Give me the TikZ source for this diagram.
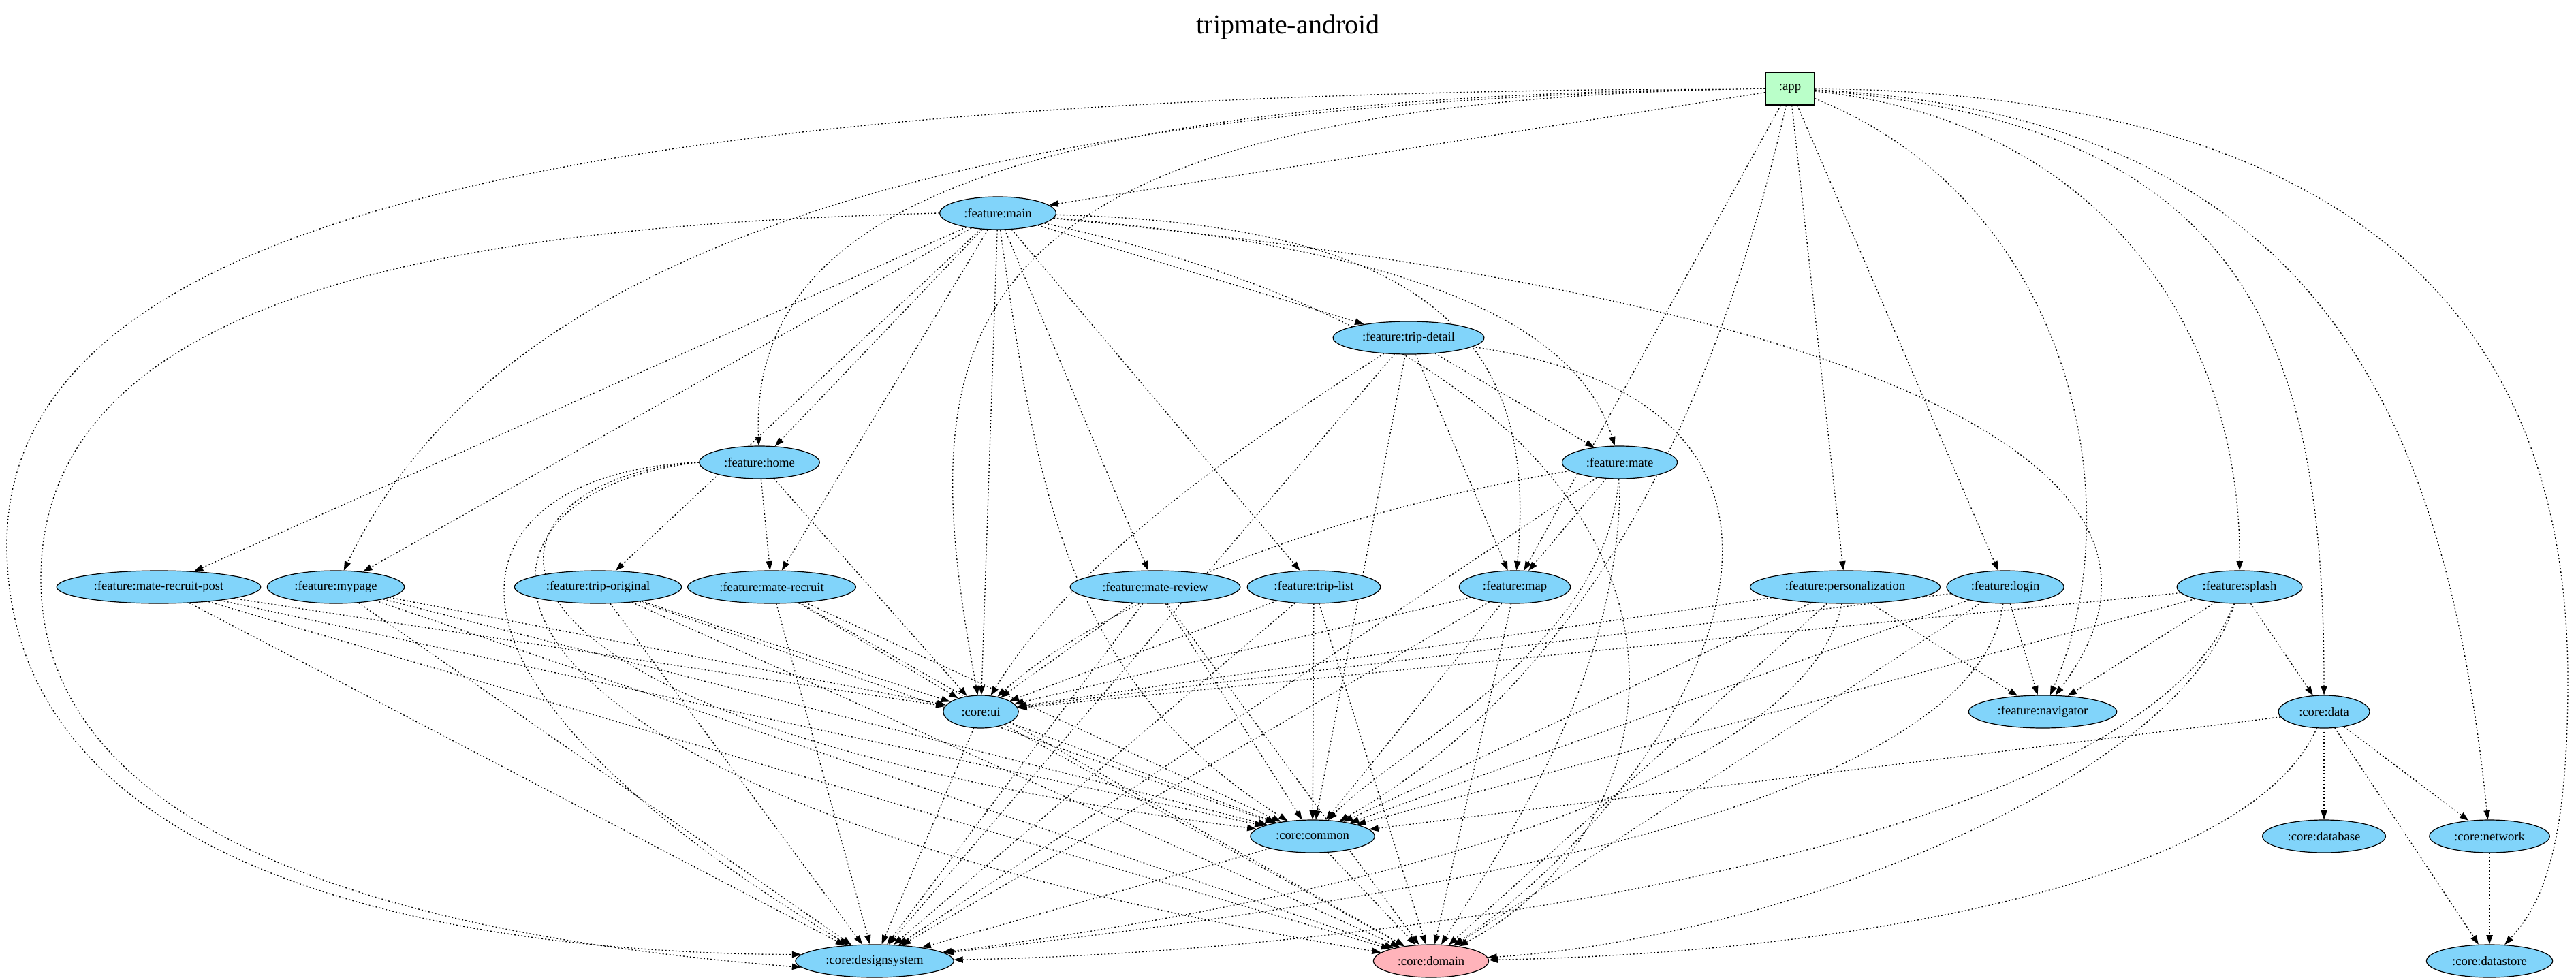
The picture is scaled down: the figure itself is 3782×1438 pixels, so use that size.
\documentclass[tikz,border=0pt]{standalone}
\usepackage{fontspec}
\setmainfont{Liberation Serif}
\usetikzlibrary{arrows.meta, shapes.geometric}
\definecolor{libblue}{HTML}{81D4FA}
\definecolor{appgreen}{HTML}{BAFFC9}
\definecolor{jvmpink}{HTML}{FFB3BA}
\pgfdeclarelayer{edges}
\pgfsetlayers{edges,main}
\tikzset{
    module/.style={ellipse, draw=black, line width=0.9pt, fill=libblue, minimum width=54pt, minimum height=36pt, inner xsep=7.92pt, inner ysep=1pt, font=\fontsize{14}{16}\selectfont},
    jvmmodule/.style={module, fill=jvmpink},
    appmodule/.style={rectangle, draw=black, line width=1pt, fill=appgreen, minimum width=54pt, minimum height=36pt, inner xsep=7.92pt, font=\fontsize{14}{16}\selectfont},
    dep/.style={-{Triangle[length=10pt, width=7pt]}, draw=black, line width=1pt, dash pattern=on 1.4pt off 2.4pt}
}

\begin{document}
\begin{tikzpicture}[x=0.75pt, y=-0.75pt]
    \useasboundingbox (0,0) rectangle (3782,1438);
    \node[font=\fontsize{30}{36}\selectfont] (title) at (1891,40) {tripmate-android};

    \node[appmodule] (app) at (2628,130) {:app};
    \node[module] (fmain) at (1465,313) {:feature:main};
    \node[module] (fdetail) at (2068,496) {:feature:trip-detail};
    \node[module] (fhome) at (1115,679) {:feature:home};
    \node[module] (fmate) at (2378,679) {:feature:mate};
    \node[module] (fpost) at (233,862) {:feature:mate-recruit-post};
    \node[module] (fmypage) at (493,862) {:feature:mypage};
    \node[module] (forig) at (878,862) {:feature:trip-original};
    \node[module] (frecruit) at (1133,862) {:feature:mate-recruit};
    \node[module] (freview) at (1696,862) {:feature:mate-review};
    \node[module] (flist) at (1929,862) {:feature:trip-list};
    \node[module] (fmap) at (2224,862) {:feature:map};
    \node[module] (fperso) at (2709,862) {:feature:personalization};
    \node[module] (flogin) at (2944,862) {:feature:login};
    \node[module] (fsplash) at (3288,862) {:feature:splash};
    \node[module] (cui) at (1440,1045) {:core:ui};
    \node[module] (fnav) at (2999,1045) {:feature:navigator};
    \node[module] (cdata) at (3412,1045) {:core:data};
    \node[module] (ccommon) at (1927,1228) {:core:common};
    \node[module] (cdb) at (3412,1228) {:core:database};
    \node[module] (cnet) at (3655,1228) {:core:network};
    \node[module] (cds) at (1284,1411) {:core:designsystem};
    \node[jvmmodule] (cdomain) at (2101,1411) {:core:domain};
    \node[module] (cstore) at (3655,1411) {:core:datastore};

    \begin{pgfonlayer}{edges}
    \fill[white] (0,0) rectangle (3782,1438);

    \draw[dep] (app) -- (fmain);
    \draw[dep] (app.west) .. controls (1500,140) and (1100,300) .. (fhome);
    \draw[dep] (app.west) .. controls (1250,150) and (700,430) .. (fmypage);
    \draw[dep] (app.west) .. controls (1350,150) and (1340,500) .. (cui);
    \draw[dep] (app.west) .. controls (900,135) and (10,300) .. (10,800) .. controls (10,1300) and (700,1400) .. (cds.175);
    \draw[dep] (app) -- (fmap);
    \draw[dep] (app) .. controls (2520,600) and (2330,1000) .. (ccommon);
    \draw[dep] (app) -- (fperso);
    \draw[dep] (app) -- (flogin);
    \draw[dep] (app) .. controls (3050,300) and (3130,750) .. (fnav);
    \draw[dep] (app) .. controls (3100,180) and (3290,500) .. (fsplash);
    \draw[dep] (app) .. controls (3300,180) and (3412,500) .. (cdata);
    \draw[dep] (app) .. controls (3400,170) and (3590,600) .. (cnet);
    \draw[dep] (app.east) .. controls (3500,140) and (3770,500) .. (3770,1000) .. controls (3770,1250) and (3730,1330) .. (cstore);

    \draw[dep] (fmain) -- (fdetail);
    \draw[dep] (fmain) -- (fhome);
    \draw[dep] (fmain) .. controls (1900,350) and (2300,420) .. (fmate);
    \draw[dep] (fmain) .. controls (2100,330) and (2260,500) .. (fmap);
    \draw[dep] (fmain) .. controls (2600,420) and (3300,650) .. (fnav);
    \draw[dep] (fmain) .. controls (2600,560) and (2500,1200) .. (cdomain);
    \draw[dep] (fmain) -- (fpost);
    \draw[dep] (fmain) -- (fmypage);
    \draw[dep] (fmain) -- (forig);
    \draw[dep] (fmain) -- (frecruit);
    \draw[dep] (fmain) -- (freview);
    \draw[dep] (fmain) -- (flist);
    \draw[dep] (fmain) -- (cui);
    \draw[dep] (fmain) .. controls (1520,700) and (1560,1000) .. (ccommon);
    \draw[dep] (fmain.west) .. controls (700,330) and (60,420) .. (60,850) .. controls (60,1300) and (800,1390) .. (cds.185);

    \draw[dep] (fdetail) -- (fmate);
    \draw[dep] (fdetail) -- (fmap);
    \draw[dep] (fdetail) .. controls (1750,700) and (1560,850) .. (cui);
    \draw[dep] (fdetail) -- (ccommon);
    \draw[dep] (fdetail) -- (cds);
    \draw[dep] (fdetail) .. controls (2800,600) and (2480,1150) .. (cdomain);

    \draw[dep] (fhome) -- (frecruit);
    \draw[dep] (fhome) -- (cui);
    \draw[dep] (fhome.west) .. controls (700,690) and (520,950) .. (cds);
    \draw[dep] (fhome.west) .. controls (690,700) and (560,1050) .. (ccommon);
    \draw[dep] (fhome.west) .. controls (640,720) and (560,1150) .. (cdomain);

    \draw[dep] (fmate) -- (fmap);
    \draw[dep] (fmate) .. controls (1900,760) and (1600,900) .. (cui);
    \draw[dep] (fmate) .. controls (2360,950) and (2050,1100) .. (ccommon);
    \draw[dep] (fmate) -- (cds);
    \draw[dep] (fmate) .. controls (2380,1000) and (2200,1250) .. (cdomain);

    \draw[dep] (fpost) -- (cui);
    \draw[dep] (fpost) -- (ccommon);
    \draw[dep] (fpost) -- (cds);
    \draw[dep] (fpost) -- (cdomain);
    \draw[dep] (fmypage) -- (cui);
    \draw[dep] (fmypage) -- (ccommon);
    \draw[dep] (fmypage) -- (cds);
    \draw[dep] (fmypage) -- (cdomain);
    \draw[dep] (forig) -- (cui);
    \draw[dep] (forig) -- (ccommon);
    \draw[dep] (forig) -- (cds);
    \draw[dep] (forig) -- (cdomain);
    \draw[dep] (frecruit) -- (cui);
    \draw[dep] (frecruit) -- (ccommon);
    \draw[dep] (frecruit) -- (cds);
    \draw[dep] (frecruit) -- (cdomain);
    \draw[dep] (freview) -- (cui);
    \draw[dep] (freview) -- (ccommon);
    \draw[dep] (freview) -- (cds);
    \draw[dep] (freview) -- (cdomain);
    \draw[dep] (flist) -- (cui);
    \draw[dep] (flist) -- (ccommon);
    \draw[dep] (flist) -- (cds);
    \draw[dep] (flist) -- (cdomain);
    \draw[dep] (fmap) -- (cui);
    \draw[dep] (fmap) -- (ccommon);
    \draw[dep] (fmap) -- (cds);
    \draw[dep] (fmap) -- (cdomain);

    \draw[dep] (fperso) -- (fnav);
    \draw[dep] (fperso) -- (cui);
    \draw[dep] (fperso) -- (ccommon);
    \draw[dep] (fperso) .. controls (2650,1150) and (2000,1320) .. (cds);
    \draw[dep] (fperso) -- (cdomain);
    \draw[dep] (flogin) -- (fnav);
    \draw[dep] (flogin) -- (cui);
    \draw[dep] (flogin) -- (ccommon);
    \draw[dep] (flogin) .. controls (2900,1200) and (2000,1330) .. (cds);
    \draw[dep] (flogin) -- (cdomain);
    \draw[dep] (fsplash) -- (fnav);
    \draw[dep] (fsplash) -- (cui);
    \draw[dep] (fsplash) -- (cdata);
    \draw[dep] (fsplash) -- (ccommon);
    \draw[dep] (fsplash) .. controls (3150,1250) and (2000,1400) .. (cds);
    \draw[dep] (fsplash) .. controls (3200,1150) and (2600,1380) .. (cdomain);

    \draw[dep] (cdata) -- (ccommon);
    \draw[dep] (cdata) -- (cdb);
    \draw[dep] (cdata) -- (cnet);
    \draw[dep] (cdata) -- (cstore);
    \draw[dep] (cdata) .. controls (3300,1300) and (2700,1400) .. (cdomain);
    \draw[dep] (cnet) -- (cstore);

    \draw[dep] (cui) -- (cds);
    \draw[dep] (cui) -- (ccommon);
    \draw[dep] (cui) -- (cdomain);
    \draw[dep] (ccommon) -- (cds);
    \draw[dep] (ccommon) -- (cdomain);
    \end{pgfonlayer}
\end{tikzpicture}
\end{document}
